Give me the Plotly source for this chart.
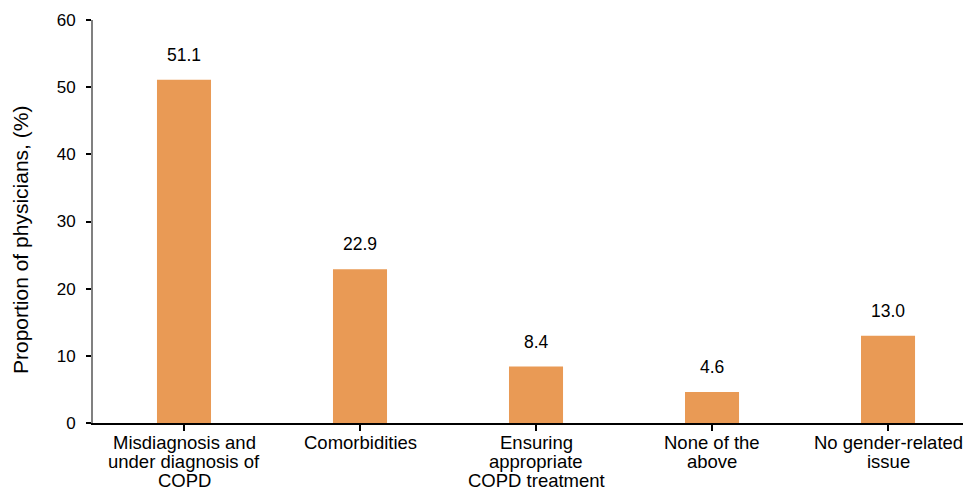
import plotly.graph_objects as go

categories = ["Misdiagnosis and<br>under diagnosis of<br>COPD", "Comorbidities",
              "Ensuring<br>appropriate<br>COPD treatment", "None of the<br>above",
              "No gender-related<br>issue"]
values = [51.1, 22.9, 8.4, 4.6, 13.0]
y_ticks = [0, 10, 20, 30, 40, 50, 60]
y_title = "Proportion of physicians, (%)"

FONT = "Liberation Sans, Arial, sans-serif"

fig = go.Figure()
fig.add_trace(go.Bar(x=list(range(len(categories))), y=values,
                     marker=dict(color="#E99A55", line=dict(width=0)), width=0.307,
                     hoverinfo="skip"))

# value labels above bars
for i, v in enumerate(values):
    fig.add_annotation(x=i, y=v, text=f"{v:.1f}", showarrow=False, yanchor="bottom",
                       yshift=13, font=dict(size=17.5, color="#000000", family=FONT))

# category labels, one annotation per line for tight line spacing
for i, cat in enumerate(categories):
    for k, line in enumerate(cat.split("<br>")):
        fig.add_annotation(x=i, y=0, text=line, showarrow=False, yanchor="middle",
                           xanchor="center", yshift=-(19.5 + 19.2 * k),
                           font=dict(size=18.5, color="#000000", family=FONT))

# y-axis title
fig.add_annotation(xref="paper", yref="paper", x=0, y=0.454, text=y_title,
                   textangle=-90, showarrow=False, xanchor="center", yanchor="middle",
                   xshift=-73, font=dict(size=21, color="#000000", family=FONT))

fig.update_layout(
    width=963, height=489,
    margin=dict(l=93, r=0, t=20, b=66, autoexpand=False),
    plot_bgcolor="white", paper_bgcolor="white",
    font=dict(family=FONT, color="#000000", size=17),
    showlegend=False,
)
fig.update_xaxes(range=[-0.517, 4.426], tickmode="array", tickvals=list(range(len(categories))),
                 ticktext=[""] * len(categories), tickson="boundaries", ticks="outside", ticklen=6,
                 tickcolor="#000000", tickwidth=2, showline=True, linecolor="#000000",
                 linewidth=2, showgrid=False, zeroline=False, automargin=False)
fig.update_yaxes(range=[0, 60], tickvals=y_ticks, ticks="outside", ticklen=5,
                 tickcolor="#000000", tickwidth=2, showline=True, linecolor="#808080",
                 linewidth=2, showgrid=False, zeroline=False, automargin=False,
                 ticklabelstandoff=7, tickfont=dict(size=17))

fig.write_html("out.html", config={"displayModeBar": False},
               post_script="document.body.style.margin='0';document.body.style.overflow='hidden';")
